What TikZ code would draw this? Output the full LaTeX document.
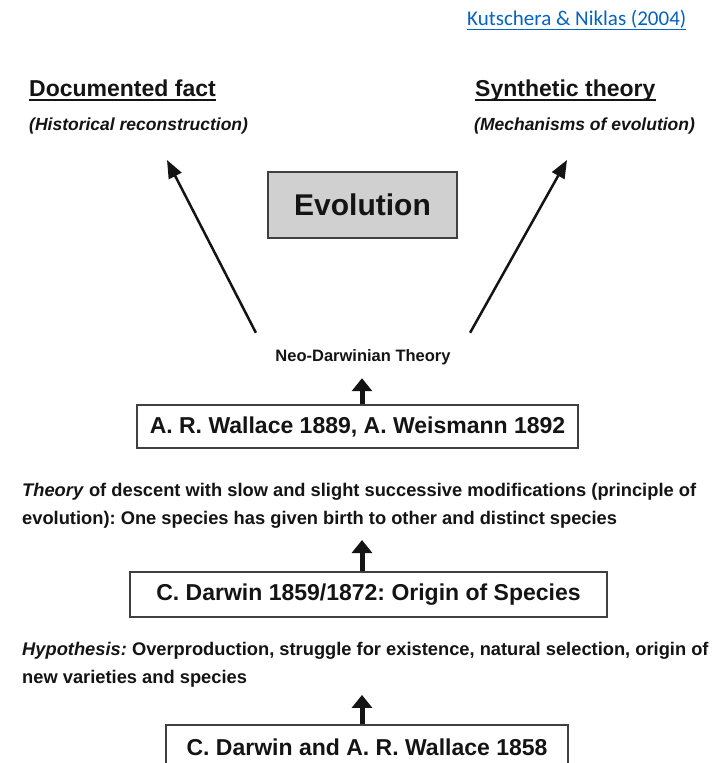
\documentclass[tikz,border=0pt]{standalone}
\usepackage{fontspec}
\setmainfont{Liberation Sans}
\newfontfamily\linkfont{Carlito}
\usepackage{xcolor}
\usetikzlibrary{arrows.meta,positioning}
\definecolor{linkblue}{HTML}{0563C1}
\definecolor{boxgray}{HTML}{D0D0D0}
\definecolor{ink}{HTML}{141414}
\frenchspacing

\begin{document}
\begin{tikzpicture}[x=1pt,y=-1pt,
  title/.style={font=\bfseries\fontsize{23}{27}\selectfont,text=ink,anchor=base west,inner sep=0pt},
  subtitle/.style={font=\bfseries\itshape\fontsize{17.5}{20}\selectfont,text=ink,anchor=base west,inner sep=0pt},
  namebox/.style={draw=black!75,line width=1.3pt,text=ink,font=\bfseries\fontsize{23}{27}\selectfont},
  para/.style={font=\bfseries\fontsize{18.3}{28}\selectfont,text=ink,align=left,anchor=north west,inner sep=0pt},
  up/.style={-{Triangle[width=20pt,length=13pt]},line width=5pt,ink},
  slant/.style={-{Triangle[width=14pt,length=18pt]},line width=2.5pt,ink}]
\useasboundingbox (0,0) rectangle (726,763);
\fill[white] (0,0) rectangle (726,763);

% source reference, top right
\node[anchor=base west,inner sep=0pt,font=\linkfont\fontsize{21}{24}\selectfont,text=linkblue] (src) at (467,25) {Kutschera \& Niklas (2004)};
\draw[linkblue,line width=1pt] ([yshift=-4pt]src.base west) -- ([yshift=-4pt]src.base east);

% the two headings
\node[title] (fact) at (29,96) {Documented fact};
\draw[ink,line width=2.2pt] ([yshift=-4pt]fact.base west) -- ([yshift=-4pt]fact.base east);
\node[subtitle] (factsub) at (29,130) {(Historical reconstruction)};
\node[title] (synth) at (475,96) {Synthetic theory};
\draw[ink,line width=2.2pt] ([yshift=-4pt]synth.base west) -- ([yshift=-4pt]synth.base east);
\node[subtitle] (synthsub) at (474,130) {(Mechanisms of evolution)};

\node[namebox,fill=boxgray,minimum width=189pt,minimum height=66pt,font=\bfseries\fontsize{30}{34}\selectfont] (evol) at (362.5,205) {Evolution};

\coordinate (factend) at (167,160);
\coordinate (synthend) at (567,160);
\coordinate (axis) at (362,0);

\node[font=\bfseries\fontsize{16.5}{18}\selectfont,text=ink] (neo) at (363,357) {Neo-Darwinian Theory};
\draw[slant] ([xshift=-16pt,yshift=13pt]neo.north west) -- (factend);
\draw[slant] ([xshift=16pt,yshift=13pt]neo.north east) -- (synthend);

\node[namebox,minimum width=441pt,minimum height=43pt] (wallace) at (357.5,426.5) {A. R. Wallace 1889, A. Weismann 1892};
\draw[up,shorten >=10pt] (wallace.north -| axis) -- (neo.south -| axis);

\node[para] (theory) at (22,483.5) {\textit{Theory} of descent with slow and slight successive modifications (principle of\\
evolution): One species has given birth to other and distinct species};

\node[namebox,minimum width=477pt,minimum height=45pt] (origin) at (368.5,594.5) {C. Darwin 1859/1872: Origin of Species};
\draw[up,shorten >=11pt] (origin.north -| axis) -- (theory.south -| axis);

\node[para] (hypo) at (22,642.5) {\textit{Hypothesis:} Overproduction, struggle for existence, natural selection, origin of\\
new varieties and species};

\node[namebox,minimum width=402pt,minimum height=44pt] (darwin) at (367,747) {C. Darwin and A. R. Wallace 1858};
\draw[up,shorten >=7pt] (darwin.north -| axis) -- (hypo.south -| axis);
\end{tikzpicture}
\end{document}
